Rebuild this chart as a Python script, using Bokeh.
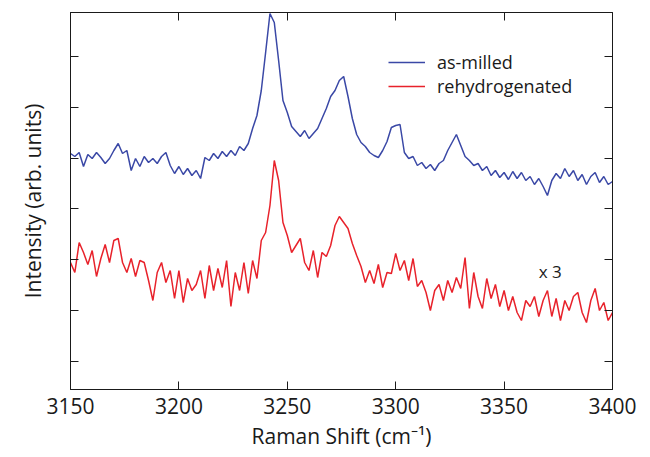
from bokeh.plotting import figure
from bokeh.models import (LinearAxis, FixedTicker, Range1d, Legend, LegendItem,
                          Label, ColumnDataSource)
from bokeh.embed import file_html
from bokeh.resources import INLINE

# Raman shift (cm^-1), sampled every 2 cm^-1
shift = list(range(3150, 3401, 2))

as_milled = [
    236, 233, 237, 223, 235, 231, 237, 232, 226, 231,
    239, 246, 236, 239, 219, 231, 223, 233, 227, 231,
    226, 233, 237, 224, 216, 223, 215, 221, 214, 219,
    211, 232, 229, 236, 231, 238, 233, 239, 234, 243,
    239, 246, 261, 274, 299, 337, 376, 367, 329, 289,
    277, 263, 258, 253, 259, 251, 256, 261, 271, 281,
    293, 299, 309, 313, 293, 271, 255, 247, 243, 237,
    234, 232, 239, 248, 262, 264, 265, 237, 231, 233,
    224, 227, 221, 225, 219, 226, 229, 239, 247, 255,
    244, 233, 229, 224, 226, 219, 223, 214, 219, 212,
    217, 210, 218, 211, 217, 209, 213, 205, 211, 203,
    194, 209, 216, 211, 221, 213, 219, 209, 215, 205,
    213, 217, 207, 213, 205, 208,
]

rehydrogenated = [
    127, 117, 147, 137, 125, 139, 113, 131, 145, 127,
    149, 151, 127, 117, 131, 113, 129, 127, 109, 89,
    117, 127, 107, 119, 91, 119, 87, 111, 99, 105,
    119, 91, 124, 99, 121, 102, 129, 83, 117, 99,
    127, 96, 129, 111, 149, 157, 184, 229, 209, 167,
    154, 137, 144, 151, 127, 119, 139, 112, 137, 133,
    144, 164, 173, 167, 161, 146, 134, 123, 107, 119,
    106, 125, 102, 117, 116, 136, 119, 129, 109, 131,
    103, 109, 97, 79, 99, 105, 89, 109, 97, 112,
    101, 132, 81, 117, 93, 81, 111, 91, 105, 83,
    99, 79, 93, 77, 69, 89, 83, 93, 73, 89,
    99, 73, 91, 69, 89, 79, 93, 97, 77, 67,
    89, 101, 79, 87, 69, 77,
]

x_ticks = [3150, 3200, 3250, 3300, 3350, 3400]
y_ticks = [28, 79, 130, 181, 231, 282, 333]
series_names = ["as-milled", "rehydrogenated"]
series_colors = ["#3A48A6", "#E8222B"]
scale_note = "x 3"

FONT = "Open Sans"
INK = "#1a1a1a"

p = figure(frame_width=542, frame_height=377, output_backend="svg",
           toolbar_location=None, x_axis_location=None, y_axis_location=None,
           x_range=Range1d(3150, 3400), y_range=Range1d(0, 377),
           min_border_left=70, min_border_right=30, min_border_top=12,
           min_border_bottom=64)
p.grid.visible = False
p.outline_line_color = INK
p.outline_line_width = 1
p.background_fill_color = "white"
p.border_fill_color = "white"


def make_axis(ticks, label=None, show_labels=False):
    ax = LinearAxis(ticker=FixedTicker(ticks=ticks))
    ax.axis_line_color = INK
    ax.major_tick_line_color = INK
    ax.major_tick_in = 8
    ax.major_tick_out = 0
    ax.minor_tick_line_color = None
    if show_labels:
        ax.major_label_text_font = FONT
        ax.major_label_text_font_size = "21px"
        ax.major_label_text_color = INK
        ax.major_label_standoff = 8
    else:
        ax.major_label_text_font_size = "0px"
        ax.major_label_text_color = None
    if label:
        ax.axis_label = label
        ax.axis_label_text_font = FONT
        ax.axis_label_text_font_size = "21px"
        ax.axis_label_text_font_style = "normal"
        ax.axis_label_text_color = INK
    return ax


xb = make_axis(x_ticks, "Raman Shift (cm\u207b\u00b9)", show_labels=True)
xb.axis_label_standoff = 5
p.add_layout(xb, "below")
yl = make_axis(y_ticks, "Intensity (arb. units)")
yl.axis_label_standoff = 24
p.add_layout(yl, "left")
p.add_layout(make_axis(x_ticks), "above")
p.add_layout(make_axis(y_ticks), "right")

src = ColumnDataSource(dict(x=shift, a=as_milled, r=rehydrogenated))
r1 = p.line("x", "a", source=src, line_color=series_colors[0], line_width=1.5)
r2 = p.line("x", "r", source=src, line_color=series_colors[1], line_width=1.5)

legend = Legend(items=[LegendItem(label=series_names[0], renderers=[r1]),
                       LegendItem(label=series_names[1], renderers=[r2])],
                location=(318, 291), border_line_color=None,
                background_fill_alpha=0, padding=0, margin=0, spacing=0,
                glyph_width=37, glyph_height=24, label_height=24,
                label_standoff=12, label_text_font=FONT,
                label_text_font_size="18px", label_text_color=INK)
p.add_layout(legend, "center")

p.add_layout(Label(x=3366, y=118, text=scale_note, text_font=FONT,
                   text_font_size="17px", text_color=INK,
                   text_baseline="middle", text_align="left"))

open("out.html", "w").write(file_html(p, INLINE))
